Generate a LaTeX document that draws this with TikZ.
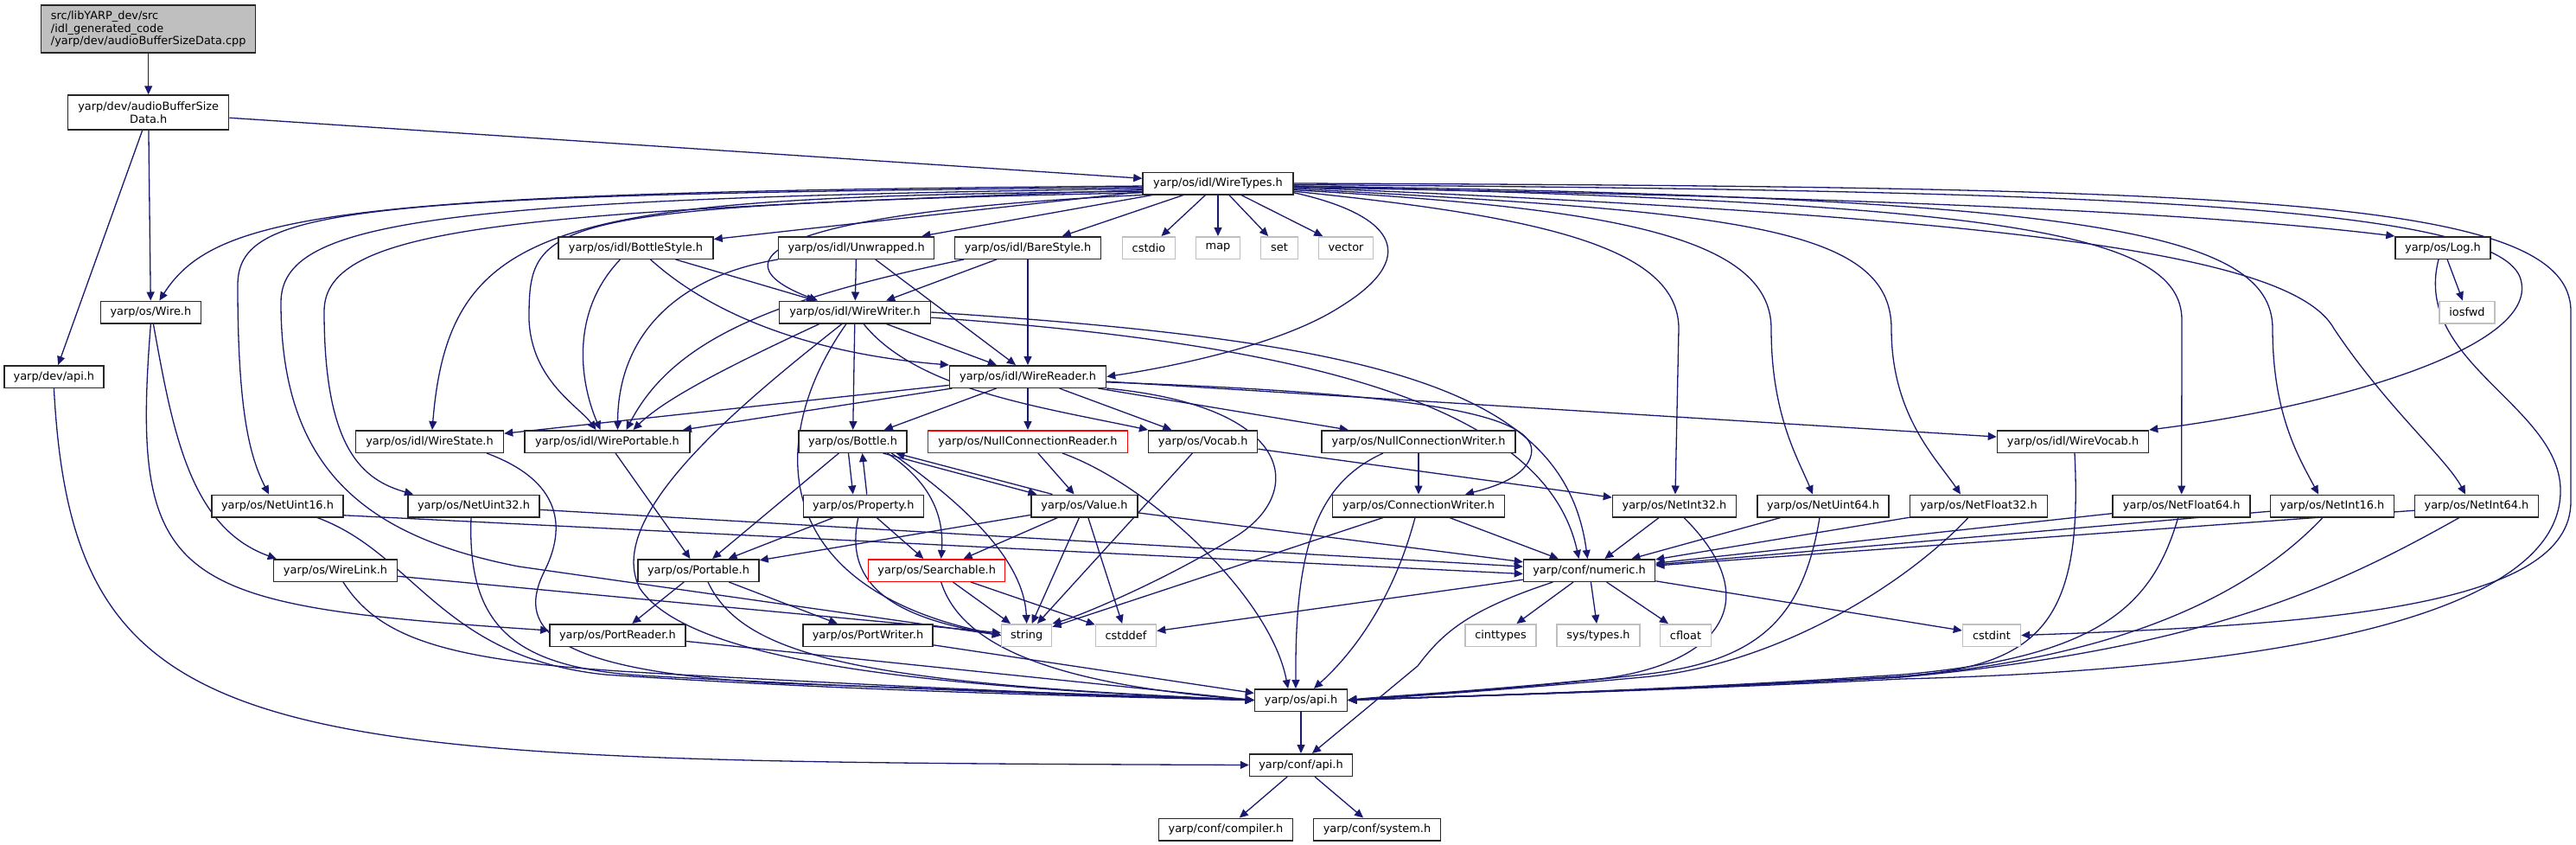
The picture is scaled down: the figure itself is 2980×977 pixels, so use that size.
\documentclass[tikz,border=0pt]{standalone}
\usepackage{fontspec}
\setmainfont{DejaVu Sans}
\usetikzlibrary{arrows.meta, backgrounds}
\definecolor{azulmedianoche}{HTML}{191970}
\definecolor{grisoscuro}{HTML}{262626}
\definecolor{grisclaro}{HTML}{BFBFBF}
\definecolor{rojoborde}{HTML}{FF0000}
\colorlet{colEnlace}{azulmedianoche}
\colorlet{colBorde}{grisoscuro}
\colorlet{colExterno}{grisclaro}
\colorlet{colRaiz}{grisclaro}
\colorlet{colRecortado}{rojoborde}
\tikzset{
  cajaArchivo/.style={
    draw=colBorde, line width=1.5pt, fill=white,
    minimum height=25.5pt, inner sep=2pt,
    font=\fontsize{12.9}{14.7}\selectfont
  },
  cajaRaiz/.style={cajaArchivo, fill=colRaiz, align=left},
  cajaSistema/.style={cajaArchivo, draw=colExterno},
  cajaRecortada/.style={cajaArchivo, draw=colRecortado},
  enlace/.style={-{Triangle[length=10pt,width=9pt]}, line width=1.3pt, colEnlace},
}

\begin{document}
\begin{tikzpicture}[x=1pt, y=-1pt]
  \useasboundingbox (0,0) rectangle (2980,977);

  \node[cajaRaiz, minimum width=248pt, minimum height=55pt] (fuenteCpp) at (171.7,33.5) {src/libYARP\_dev/src\\/idl\_generated\_code\\/yarp/dev/audioBufferSizeData.cpp};
  \node[cajaArchivo, minimum width=186pt, minimum height=40pt, align=center] (audioData) at (171.7,130) {yarp/dev/audioBufferSize\\Data.h};
  \node[cajaArchivo, minimum width=174pt] (wireTypes) at (1409,212) {yarp/os/idl/WireTypes.h};

  \node[cajaArchivo, minimum width=179pt] (bottleStyle) at (735.5,286.5) {yarp/os/idl/BottleStyle.h};
  \node[cajaArchivo, minimum width=180pt] (unwrapped) at (990.7,286.5) {yarp/os/idl/Unwrapped.h};
  \node[cajaArchivo, minimum width=169pt] (bareStyle) at (1189,286.5) {yarp/os/idl/BareStyle.h};
  \node[cajaSistema, minimum width=61pt] (stdCstdio) at (1329,286.5) {cstdio};
  \node[cajaSistema, minimum width=51pt] (stdMap) at (1409,286.5) {map};
  \node[cajaSistema, minimum width=43pt] (stdSet) at (1480,286.5) {set};
  \node[cajaSistema, minimum width=63pt] (stdVector) at (1557,286.5) {vector};
  \node[cajaArchivo, minimum width=110pt] (logH) at (2826,286.5) {yarp/os/Log.h};

  \node[cajaArchivo, minimum width=116pt] (osWire) at (174.4,361) {yarp/os/Wire.h};
  \node[cajaArchivo, minimum width=175pt] (wireWriter) at (989,361) {yarp/os/idl/WireWriter.h};
  \node[cajaSistema, minimum width=64pt] (stdIosfwd) at (2854,361) {iosfwd};

  \node[cajaArchivo, minimum width=115pt] (devApi) at (62.4,435.5) {yarp/dev/api.h};
  \node[cajaArchivo, minimum width=181pt] (wireReader) at (1189,435.5) {yarp/os/idl/WireReader.h};

  \node[cajaArchivo, minimum width=171pt] (wireState) at (497,510.5) {yarp/os/idl/WireState.h};
  \node[cajaArchivo, minimum width=191pt] (wirePortable) at (702.5,510.5) {yarp/os/idl/WirePortable.h};
  \node[cajaArchivo, minimum width=125pt] (bottle) at (986.5,510.5) {yarp/os/Bottle.h};
  \node[cajaRecortada, minimum width=231pt] (nullConnReader) at (1189,510.5) {yarp/os/NullConnectionReader.h};
  \node[cajaArchivo, minimum width=126pt] (vocab) at (1391.7,510.5) {yarp/os/Vocab.h};
  \node[cajaArchivo, minimum width=224pt] (nullConnWriter) at (1641,510.5) {yarp/os/NullConnectionWriter.h};
  \node[cajaArchivo, minimum width=175pt] (wireVocab) at (2398,510.5) {yarp/os/idl/WireVocab.h};

  \node[cajaArchivo, minimum width=152pt] (netUint16) at (321,585) {yarp/os/NetUint16.h};
  \node[cajaArchivo, minimum width=152pt] (netUint32) at (548,585) {yarp/os/NetUint32.h};
  \node[cajaArchivo, minimum width=139pt] (property) at (998.8,585) {yarp/os/Property.h};
  \node[cajaArchivo, minimum width=123pt] (value) at (1254.5,585) {yarp/os/Value.h};
  \node[cajaArchivo, minimum width=199pt] (connWriter) at (1641,585) {yarp/os/ConnectionWriter.h};
  \node[cajaArchivo, minimum width=143pt] (netInt32) at (1937,585) {yarp/os/NetInt32.h};
  \node[cajaArchivo, minimum width=152pt] (netUint64) at (2109,585) {yarp/os/NetUint64.h};
  \node[cajaArchivo, minimum width=159pt] (netFloat32) at (2289,585) {yarp/os/NetFloat32.h};
  \node[cajaArchivo, minimum width=159pt] (netFloat64) at (2523.7,585) {yarp/os/NetFloat64.h};
  \node[cajaArchivo, minimum width=143pt] (netInt16) at (2698,585) {yarp/os/NetInt16.h};
  \node[cajaArchivo, minimum width=143pt] (netInt64) at (2865,585) {yarp/os/NetInt64.h};

  \node[cajaArchivo, minimum width=143pt] (wireLink) at (388,659.5) {yarp/os/WireLink.h};
  \node[cajaArchivo, minimum width=140pt] (portable) at (808,659.5) {yarp/os/Portable.h};
  \node[cajaRecortada, minimum width=158pt] (searchable) at (1083.7,659.5) {yarp/os/Searchable.h};
  \node[cajaArchivo, minimum width=152pt] (numeric) at (1838.5,659.5) {yarp/conf/numeric.h};

  \node[cajaArchivo, minimum width=157pt] (portReader) at (714.4,734.5) {yarp/os/PortReader.h};
  \node[cajaArchivo, minimum width=150pt] (portWriter) at (1004,734.5) {yarp/os/PortWriter.h};
  \node[cajaSistema, minimum width=58pt] (stdString) at (1187.7,734.5) {string};
  \node[cajaSistema, minimum width=70pt] (stdCstddef) at (1302.5,734.5) {cstddef};
  \node[cajaSistema, minimum width=82pt] (stdCinttypes) at (1736,734.5) {cinttypes};
  \node[cajaSistema, minimum width=96pt] (sysTypes) at (1849,734.5) {sys/types.h};
  \node[cajaSistema, minimum width=59pt] (stdCfloat) at (1950,734.5) {cfloat};
  \node[cajaSistema, minimum width=67pt] (stdCstdint) at (2304,734.5) {cstdint};

  \node[cajaArchivo, minimum width=107pt] (osApi) at (1505,809.5) {yarp/os/api.h};
  \node[cajaArchivo, minimum width=119pt] (confApi) at (1505,884.5) {yarp/conf/api.h};
  \node[cajaArchivo, minimum width=155pt] (confCompiler) at (1418,959) {yarp/conf/compiler.h};
  \node[cajaArchivo, minimum width=147pt] (confSystem) at (1593,959) {yarp/conf/system.h};

  \begin{scope}[on background layer]
    \fill[white] (0,0) rectangle (2980,977);

    % cabecera generada
    \draw[enlace] (fuenteCpp) -- (audioData);
    \draw[enlace] (audioData) -- (wireTypes);
    \draw[enlace] (audioData) -- (osWire);
    \draw[enlace] ([xshift=-7pt]audioData.south) -- (devApi);
    \draw[enlace] (devApi.south) .. controls (85,880) and (300,880) .. (confApi.west);
    \draw[enlace] (osWire.south) .. controls (150,680) and (200,700) .. (portReader.176);
    \draw[enlace] ([xshift=3pt]osWire.south) .. controls (200,500) and (220,610) .. ([xshift=4pt]wireLink.north west);

    % WireTypes.h hacia la izquierda
    \draw[enlace] (wireTypes.182) .. controls (400,222) and (250,245) .. ([xshift=10pt]osWire.north);
    \draw[enlace] (wireTypes.183) .. controls (400,225) and (275,240) .. (275,330) .. controls (275,480) and (290,530) .. ([xshift=-10pt]netUint16.north);
    \draw[enlace] (wireTypes.184) .. controls (500,230) and (325,255) .. (325,350) .. controls (325,540) and (420,620) .. (600,655) -- (stdString.west);
    \draw[enlace] (wireTypes.185) .. controls (600,245) and (375,260) .. (375,360) .. controls (375,520) and (420,555) .. ([xshift=-70pt]netUint32.north);
    \draw[enlace] (wireTypes.186) .. controls (650,228) and (520,250) .. ([xshift=3pt]wireState.north);
    \draw[enlace] (wireTypes.187) .. controls (620,238) and (612,255) .. (612,370) .. controls (615,440) and (670,470) .. ([xshift=-13pt]wirePortable.north);
    \draw[enlace] (wireTypes) -- (bottleStyle);
    \draw[enlace] (wireTypes) -- (unwrapped);
    \draw[enlace] (wireTypes) -- (bareStyle);
    \draw[enlace] (wireTypes) -- (stdCstdio);
    \draw[enlace] (wireTypes) -- (stdMap);
    \draw[enlace] (wireTypes) -- (stdSet);
    \draw[enlace] (wireTypes) -- (stdVector);
    \draw[enlace] (wireTypes.south west) .. controls (900,245) and (820,300) .. ([xshift=-43pt]wireWriter.north);
    \draw[enlace] (wireTypes.-7) .. controls (1620,250) and (1640,300) .. (1550,355) .. controls (1480,400) and (1350,425) .. (wireReader.east);

    % WireTypes.h hacia la derecha
    \draw[enlace] (wireTypes.-3) .. controls (2000,225) and (2500,240) .. (logH.north west);
    \draw[enlace] (wireTypes.-1) .. controls (2400,220) and (2880,235) .. (2915,320) .. controls (2945,400) and (2700,470) .. (wireVocab.north east);
    \draw[enlace] (wireTypes.0) .. controls (2600,216) and (2974,228) .. (2974,360) -- (2974,580) .. controls (2974,700) and (2700,722) .. (stdCstdint.east);
    \draw[enlace] (wireTypes.-6) .. controls (1780,250) and (1942,285) .. (1942,380) -- ([xshift=1pt]netInt32.north);
    \draw[enlace] (wireTypes.-5) .. controls (1850,240) and (2049,270) .. (2049,380) .. controls (2049,480) and (2080,530) .. ([xshift=-12pt]netUint64.north);
    \draw[enlace] (wireTypes.-4) .. controls (2000,245) and (2188,260) .. (2188,380) .. controls (2188,480) and (2240,530) .. ([xshift=-21pt]netFloat32.north);
    \draw[enlace] (wireTypes.-2) .. controls (2300,235) and (2524,265) .. (2524,370) -- (netFloat64.north);
    \draw[enlace] (wireTypes.-2) .. controls (2400,228) and (2629,265) .. (2629,380) .. controls (2629,480) and (2660,530) .. ([xshift=-16pt]netInt16.north);
    \draw[enlace] (wireTypes.-3) .. controls (2300,250) and (2650,290) .. (2700,380) .. controls (2760,470) and (2830,530) .. ([xshift=-13pt]netInt64.north);

    % estilos idl
    \draw[enlace] ([xshift=-18pt]bottleStyle.south) .. controls (660,360) and (670,440) .. ([xshift=-8pt]wirePortable.north);
    \draw[enlace] (bottleStyle) -- (wireWriter);
    \draw[enlace] ([xshift=17pt]bottleStyle.south) .. controls (830,370) and (950,410) .. (wireReader.north west);
    \draw[enlace] (unwrapped.south west) .. controls (780,320) and (715,390) .. ([xshift=12pt]wirePortable.north);
    \draw[enlace] (unwrapped) -- (wireWriter);
    \draw[enlace] ([xshift=22pt]unwrapped.south) -- ([xshift=-14pt]wireReader.north);
    \draw[enlace] ([xshift=-74pt]bareStyle.south) .. controls (900,345) and (780,390) .. ([xshift=22pt]wirePortable.north);
    \draw[enlace] (bareStyle) -- (wireWriter);
    \draw[enlace] (bareStyle) -- (wireReader);

    % WireWriter.h
    \draw[enlace] (wireWriter) -- (wireReader);
    \draw[enlace] ([xshift=-41pt]wireWriter.south) .. controls (850,420) and (770,460) .. ([xshift=30pt]wirePortable.north);
    \draw[enlace] (wireWriter) -- (bottle);
    \draw[enlace] ([xshift=10pt]wireWriter.south) .. controls (1060,450) and (1200,470) .. (vocab.north west);
    \draw[enlace] ([xshift=-10pt]wireWriter.south) .. controls (890,500) and (880,680) .. (stdString.west);
    \draw[enlace] ([xshift=-15pt]wireWriter.south) .. controls (840,480) and (700,600) .. (740,680) .. controls (800,770) and (1100,795) .. (osApi.west);
    \draw[enlace] (wireWriter.east) .. controls (1600,395) and (1810,450) .. ([xshift=-2pt]numeric.north);
    \draw[enlace] (wireWriter.-4) .. controls (1550,400) and (1790,480) .. ([xshift=-12pt]numeric.north);

    % WireReader.h
    \draw[enlace] (wireReader) -- (wireState);
    \draw[enlace] (wireReader) -- (wirePortable);
    \draw[enlace] (wireReader) -- (bottle);
    \draw[enlace] (wireReader) -- (nullConnReader);
    \draw[enlace] (wireReader) -- (vocab);
    \draw[enlace] (wireReader) -- (nullConnWriter);
    \draw[enlace] (wireReader) -- (wireVocab);
    \draw[enlace] (wireReader.south east) .. controls (1500,470) and (1510,570) .. (1430,620) .. controls (1350,670) and (1250,712) .. (stdString.north east);
    \draw[enlace] (wireReader.-4) .. controls (1650,455) and (1790,480) .. (1770,530) .. controls (1760,555) and (1720,565) .. ([xshift=54pt]connWriter.north);

    % Bottle.h, Property.h, Value.h
    \draw[enlace] (bottle) -- (portable);
    \draw[enlace] ([xshift=-5pt]bottle.south) -- ([xshift=-12pt]property.north);
    \draw[enlace] ([xshift=4pt]property.north) -- ([xshift=11pt]bottle.south);
    \draw[enlace] ([xshift=35pt]bottle.south) -- ([xshift=-55pt]value.north);
    \draw[enlace] ([xshift=-37pt]value.north) -- ([xshift=50pt]bottle.south);
    \draw[enlace] ([xshift=40pt]bottle.south) .. controls (1080,560) and (1092,600) .. ([xshift=5pt]searchable.north);
    \draw[enlace] ([xshift=45pt]bottle.south) .. controls (1140,600) and (1185,660) .. (stdString.north);
    \draw[enlace] (property) -- (portable);
    \draw[enlace] (property) -- (searchable);
    \draw[enlace] ([xshift=-6pt]property.south) .. controls (975,680) and (1040,715) .. (stdString.west);
    \draw[enlace] (value) -- (portable);
    \draw[enlace] (value) -- (searchable);
    \draw[enlace] (value) -- (stdString);
    \draw[enlace] (value) -- (stdCstddef);
    \draw[enlace] (value) -- (numeric);
    \draw[enlace] (nullConnReader) -- (value);
    \draw[enlace] ([xshift=40pt]nullConnReader.south) .. controls (1330,560) and (1470,690) .. ([xshift=-15pt]osApi.north);
    \draw[enlace] (vocab) -- (stdString);
    \draw[enlace] (vocab) -- (netInt32);

    % conexiones
    \draw[enlace] (nullConnWriter) -- (connWriter);
    \draw[enlace] ([xshift=-41pt]nullConnWriter.south) .. controls (1520,560) and (1498,640) .. ([xshift=-6pt]osApi.north);
    \draw[enlace] (connWriter) -- (numeric);
    \draw[enlace] ([xshift=-4pt]connWriter.south) .. controls (1610,700) and (1560,760) .. ([xshift=15pt]osApi.north);
    \draw[enlace] (connWriter) -- (stdString);

    % tipos de red
    \draw[enlace] (netUint16.-8) -- (numeric.183);
    \draw[enlace] (netUint32) -- (numeric);
    \draw[enlace] (netInt32) -- (numeric);
    \draw[enlace] (netUint64) -- (numeric);
    \draw[enlace] (netFloat32) -- (numeric);
    \draw[enlace] (netFloat64) -- (numeric);
    \draw[enlace] (netInt16) -- (numeric);
    \draw[enlace] (netInt64) -- (numeric);
    \draw[enlace] ([xshift=46pt]netUint16.south) .. controls (480,640) and (510,760) .. (700,780) .. controls (1000,800) and (1300,806) .. (osApi.west);
    \draw[enlace] ([xshift=-3pt]netUint32.south) .. controls (540,730) and (600,775) .. (760,782) .. controls (1000,795) and (1300,806) .. (osApi.west);
    \draw[enlace] ([xshift=66pt]wireState.south) .. controls (660,560) and (650,620) .. (630,660) .. controls (600,720) and (620,775) .. (900,790) -- (osApi.west);
    \draw[enlace] ([xshift=9pt]wireLink.south) .. controls (440,740) and (520,765) .. (750,778) .. controls (1000,792) and (1300,806) .. (osApi.west);
    \draw[enlace] ([xshift=11pt]netInt32.south) .. controls (2050,700) and (1980,770) .. (1850,785) .. controls (1700,800) and (1600,805) .. (osApi.east);
    \draw[enlace] ([xshift=-4pt]netUint64.south) .. controls (2085,720) and (2030,765) .. (1900,780) .. controls (1750,797) and (1620,805) .. (osApi.east);
    \draw[enlace] ([xshift=-12pt]netFloat32.south) .. controls (2200,680) and (2050,770) .. (1900,783) .. controls (1750,797) and (1620,806) .. (osApi.east);
    \draw[enlace] ([xshift=-4pt]netFloat64.south) .. controls (2490,700) and (2430,760) .. (2200,780) .. controls (1900,800) and (1650,806) .. (osApi.east);
    \draw[enlace] ([xshift=-11pt]netInt16.south) .. controls (2600,690) and (2450,760) .. (2200,782) .. controls (1900,800) and (1650,806) .. (osApi.east);
    \draw[enlace] ([xshift=-20pt]netInt64.south) .. controls (2700,680) and (2550,750) .. (2200,783) .. controls (1900,800) and (1650,806) .. (osApi.east);
    \draw[enlace] ([xshift=2pt]wireVocab.south) .. controls (2410,720) and (2360,770) .. (2200,782) .. controls (1900,800) and (1650,806) .. (osApi.east);
    \draw[enlace] (logH) -- (stdIosfwd);
    \draw[enlace] ([xshift=-5pt]logH.south) .. controls (2790,420) and (2965,470) .. (2962,570) .. controls (2958,720) and (2600,775) .. (2200,785) .. controls (1900,800) and (1650,806) .. (osApi.east);

    % Wire, Portable y lectores
    \draw[enlace] (wireLink) -- (stdString);
    \draw[enlace] (wirePortable) -- (portable);
    \draw[enlace] (portable) -- (portReader);
    \draw[enlace] (portable) -- (portWriter);
    \draw[enlace] ([xshift=11pt]portable.south) .. controls (860,760) and (1000,790) .. (osApi.west);
    \draw[enlace] (portReader.-5) -- (osApi.west);
    \draw[enlace] (portWriter) -- (osApi);
    \draw[enlace] (searchable) -- (stdString);
    \draw[enlace] (searchable) -- (stdCstddef);
    \draw[enlace] ([xshift=5pt]searchable.south) .. controls (1110,740) and (1200,790) .. (osApi.west);

    % numeric.h y api
    \draw[enlace] (numeric) -- (stdCinttypes);
    \draw[enlace] (numeric) -- (sysTypes);
    \draw[enlace] (numeric) -- (stdCfloat);
    \draw[enlace] (numeric) -- (stdCstddef);
    \draw[enlace] (numeric) -- (stdCstdint);
    \draw[enlace] ([xshift=-42pt]numeric.south) .. controls (1700,705) and (1670,730) .. (1640,770) -- ([xshift=13pt]confApi.north);
    \draw[enlace] (osApi) -- (confApi);
    \draw[enlace] (confApi) -- (confCompiler);
    \draw[enlace] (confApi) -- (confSystem);
  \end{scope}
\end{tikzpicture}
\end{document}
